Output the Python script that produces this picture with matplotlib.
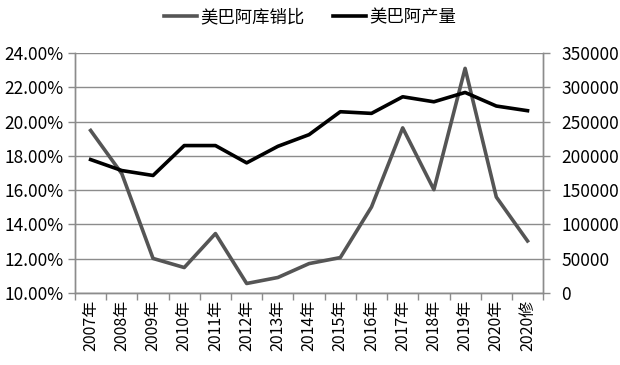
import matplotlib
matplotlib.use('Agg')
import matplotlib.pyplot as plt
from matplotlib.ticker import FuncFormatter, MultipleLocator, FixedLocator

plt.rcParams['font.family'] = ['Noto Sans CJK SC', 'DejaVu Sans']

# data
years = ['2007年', '2008年', '2009年', '2010年', '2011年', '2012年', '2013年', '2014年',
         '2015年', '2016年', '2017年', '2018年', '2019年', '2020年', '2020修']
ratio = [19.48, 16.96, 12.02, 11.49, 13.47, 10.56, 10.91, 11.72,
         12.07, 15.02, 19.63, 16.03, 23.1, 15.6, 13.04]
output = [194600, 178600, 171400, 215000, 215000, 189800, 213900, 230900,
          264300, 261900, 286100, 278800, 292400, 272600, 265800]

grey = '#8c8c8c'
fig = plt.figure(figsize=(6.2, 3.65), dpi=100)
ax = fig.add_axes([0.121, 0.197, 0.755, 0.658])
ax2 = ax.twinx()

x = list(range(len(years)))
l1, = ax.plot(x, ratio, color='#555555', lw=2.6, label='美巴阿库销比', zorder=3)
l2, = ax2.plot(x, output, color='black', lw=2.6, label='美巴阿产量', zorder=3)

ax.set_xlim(-0.5, len(years) - 0.5)
ax.set_ylim(10, 24)
ax2.set_ylim(0, 350000)
ax.yaxis.set_major_locator(MultipleLocator(2))
ax2.yaxis.set_major_locator(MultipleLocator(50000))
ax.yaxis.set_major_formatter(FuncFormatter(lambda v, p: '%.2f%%' % v))
ax.grid(axis='y', color=grey, lw=1)

ax.set_xticks(x)
ax.set_xticklabels(years, rotation=90, fontsize=11.5)
ax.xaxis.set_minor_locator(FixedLocator([i - 0.5 for i in range(len(years) + 1)]))
ax.tick_params(axis='x', which='major', length=0, pad=5)
ax.tick_params(axis='x', which='minor', length=5, color=grey, width=1)
ax.tick_params(axis='y', length=5, color=grey, width=1, labelsize=12.5, pad=3)
ax2.tick_params(axis='y', length=5, color=grey, width=1, labelsize=12.5, pad=8)

for a in (ax, ax2):
    a.spines['top'].set_visible(False)
    for s in ('left', 'right', 'bottom'):
        a.spines[s].set_color(grey)
        a.spines[s].set_linewidth(1)

fig.legend(handles=[l1, l2], loc='center', bbox_to_anchor=(0.5, 0.953), ncol=2,
           frameon=False, fontsize=12.5, handlelength=1.9, handletextpad=0.2,
           columnspacing=1.6)

fig.savefig('out.png', dpi=100)
